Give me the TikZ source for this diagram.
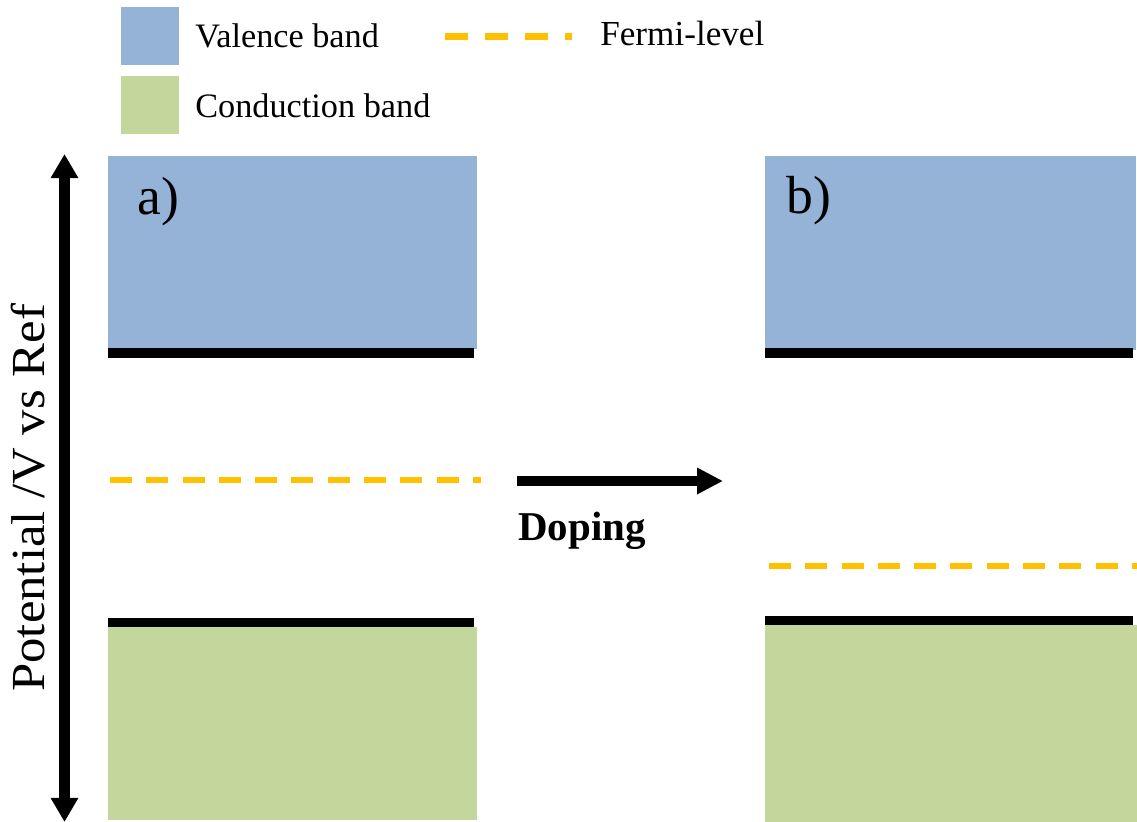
\documentclass[tikz,border=0pt]{standalone}
\usepackage{fontspec}
\usepackage{graphicx}
\setmainfont{Liberation Serif}
\usetikzlibrary{arrows.meta}
\definecolor{vband}{HTML}{95B3D7}
\definecolor{cband}{HTML}{C3D69B}
\definecolor{fermi}{HTML}{FFC000}
\begin{document}
\begin{tikzpicture}[x=0.02cm,y=-0.02cm,
  vfill/.style={fill=vband},
  cfill/.style={fill=cband},
  edgeline/.style={fill=black},
  fermiline/.style={draw=fermi, line width=3.4pt, dash pattern=on 0.44cm off 0.286cm},
  legdash/.style={draw=fermi, line width=4pt, dash pattern=on 0.46cm off 0.34cm},
  harrow/.style={line width=5.7pt, -{Triangle[length=14.8pt,width=14.2pt]}},
  varrow/.style={line width=5.9pt, {Triangle[length=13.7pt,width=14.8pt]}-{Triangle[length=13.7pt,width=14.8pt]}},
  lab/.style={inner sep=0pt, font=\fontsize{19.5}{24}\selectfont},
  flab/.style={inner sep=0pt, font=\fontsize{20}{24}\selectfont},
  panel/.style={inner sep=0pt, font=\fontsize{30.5}{36}\selectfont},
  axislab/.style={inner sep=0pt, font=\fontsize{27}{32}\selectfont},
  dop/.style={inner sep=0pt, font=\fontsize{23.3}{28}\selectfont\bfseries}
]
\useasboundingbox (0,0) rectangle (1137,822);

% legend
\fill[vfill] (121,7) rectangle (179,65);
\fill[cfill] (121,76) rectangle (179,134);
\node[lab, anchor=base west] (lv) at (195,47) {Valence band};
\node[lab, anchor=base west] (lc) at (195,117) {Conduction band};
\draw[legdash] (445,36.5) -- (572,36.5);
\node[flab, anchor=base west] (lf) at (600,45) {Fermi-level};

% panel a
\fill[vfill] (108,156) rectangle (477,349);
\fill[edgeline] (108,348) rectangle (474,358);
\fill[cfill] (108,627) rectangle (477,820);
\fill[edgeline] (108,618) rectangle (474,627);
\draw[fermiline] (110,480) -- (481,480);
\node[panel, anchor=base west] (pa) at (137,214) {a)};

% panel b
\fill[vfill] (765,156) rectangle (1136,350);
\fill[edgeline] (765,348) rectangle (1133,358);
\fill[cfill] (765,625) rectangle (1137,822);
\fill[edgeline] (765,616) rectangle (1133,625);
\draw[fermiline] (769,566) -- (1137,566);
\node[panel, anchor=base west] (pb) at (786,213) {b)};

% doping arrow
\coordinate (ds) at (517,481);
\coordinate (de) at (723,481);
\draw[harrow] (ds) -- (de);
\node[dop, anchor=base west] (dl) at (518,540) {Doping};

% potential axis
\coordinate (vt) at (64.5,154);
\coordinate (vb) at (64.5,822);
\draw[varrow] (vb) -- (vt);
\node[axislab, rotate=90, anchor=base west] (al) at (45,692) {\scalebox{1.07}[1]{Potential /V vs Ref}};
\end{tikzpicture}
\end{document}
